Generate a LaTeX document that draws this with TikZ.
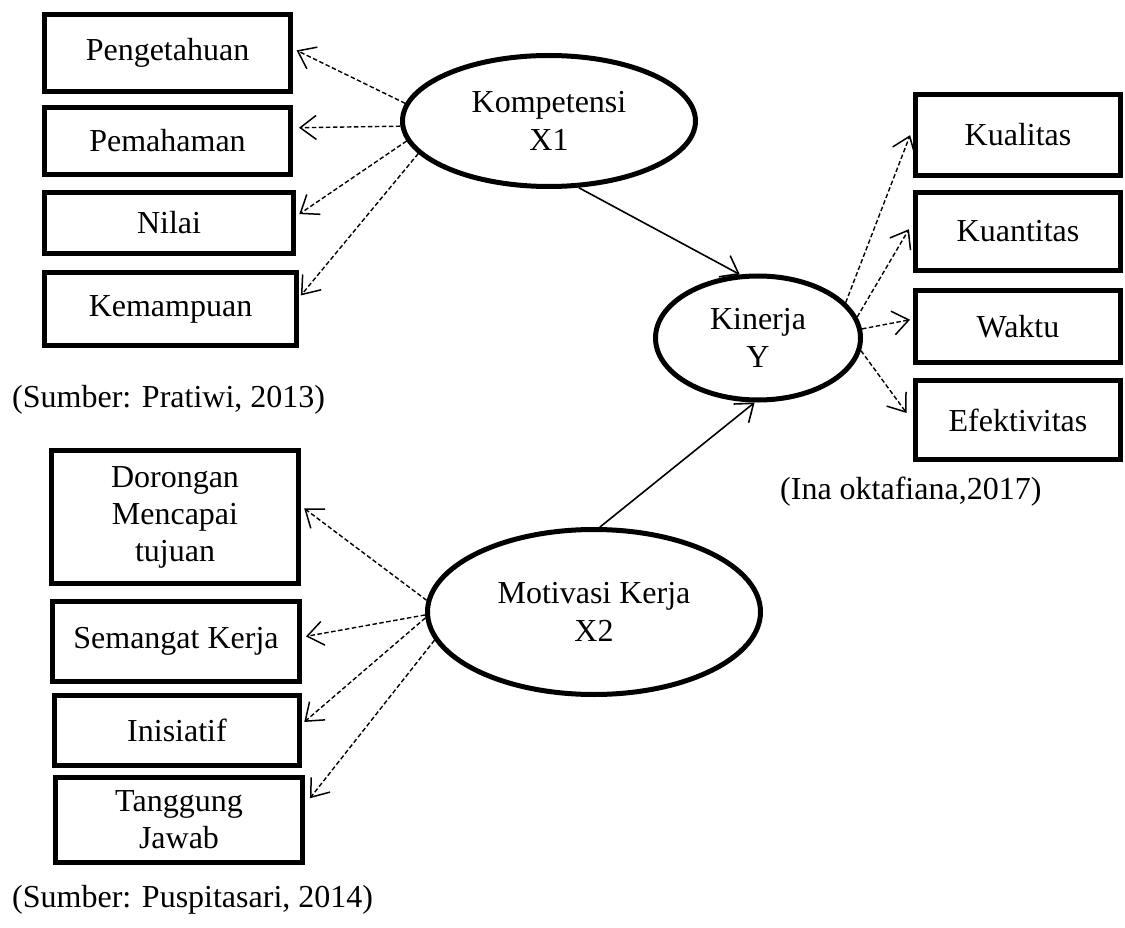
\documentclass[tikz,border=0pt]{standalone}
\usepackage{fontspec}
\setmainfont{Liberation Serif}
\usetikzlibrary{arrows.meta,shapes.geometric}
\begin{document}
\begin{tikzpicture}[x=1pt,y=-1pt]
    % Define basic node styles
    \tikzset{
        block/.style={
            rectangle,
            draw,
            line width=5pt,
            inner sep=0pt,
            align=center,
            font=\fontsize{32}{37}\selectfont
        },
        latent/.style={
            ellipse,
            draw,
            line width=5pt,
            inner sep=0pt,
            align=center,
            font=\fontsize{32}{38}\selectfont
        },
        loading/.style={
            line width=1.4pt,
            dash pattern=on 4.5pt off 2.5pt,
            -{Straight Barb[length=16pt,width=24pt,line width=1.5pt]}
        },
        effect/.style={
            line width=1.6pt,
            -{Straight Barb[length=16pt,width=24pt,line width=1.6pt]}
        },
        source/.style={anchor=west, inner sep=0pt, font=\fontsize{32}{37}\selectfont}
    }
    \useasboundingbox (0,0) rectangle (1125,928);

    % Latent variables
    \node[latent, minimum width=293pt, minimum height=131pt] (kom) at (549,121) {Kompetensi\\X1};
    \node[latent, minimum width=205pt, minimum height=124pt] (kin) at (758,338) {Kinerja\\Y};
    \node[latent, minimum width=333pt, minimum height=165pt] (mot) at (594,612) {Motivasi Kerja\\X2};

    % Indicators of Kompetensi
    \node[block, minimum width=246pt, minimum height=77pt] (peng) at (167.5,53) {Pengetahuan};
    \node[block, minimum width=246pt, minimum height=67pt] (pem) at (167.5,141) {Pemahaman};
    \node[block, minimum width=249pt, minimum height=61pt] (nil) at (169,223) {Nilai};
    \node[block, minimum width=252pt, minimum height=73pt] (kem) at (170.5,309) {Kemampuan};

    % Indicators of Kinerja
    \node[block, minimum width=205pt, minimum height=81pt] (kual) at (1018,135) {Kualitas};
    \node[block, minimum width=205pt, minimum height=78pt] (kuan) at (1018,231.5) {Kuantitas};
    \node[block, minimum width=205pt, minimum height=72pt] (wak) at (1018,326.5) {Waktu};
    \node[block, minimum width=205pt, minimum height=79pt] (efk) at (1018,420) {Efektivitas};

    % Indicators of Motivasi Kerja
    \node[block, minimum width=247pt, minimum height=133pt] (dor) at (175,517) {Dorongan\\Mencapai\\tujuan};
    \node[block, minimum width=247pt, minimum height=80pt] (sem) at (176,641.5) {Semangat Kerja};
    \node[block, minimum width=245pt, minimum height=70pt] (ini) at (177,730.5) {Inisiatif};
    \node[block, minimum width=247pt, minimum height=85pt] (tang) at (179,820) {Tanggung\\Jawab};

    % Sources
    \node[source] (srcx1) at (12,400) {(Sumber: Pratiwi, 2013)};
    \node[source] (srcy) at (780,492) {(Ina oktafiana,2017)};
    \node[source] (srcx2) at (12,900) {(Sumber: Puspitasari, 2014)};

    % Loadings of Kompetensi
    \draw[loading, shorten >=4pt] (kom.173) -- (peng.2);
    \draw[loading, shorten >=6pt] (kom.182) -- (pem.6);
    \draw[loading, shorten >=4pt] (kom.188) -- (nil.3);
    \draw[loading, shorten >=3pt] (kom.194) -- (kem.5);

    % Loadings of Kinerja
    \draw[loading, shorten >=8pt] (kin.22) -- (kual.176);
    \draw[loading, shorten >=8pt] (kin.12) -- (kuan.175);
    \draw[loading, shorten >=3pt] (kin.5) -- (wak.176);
    \draw[loading, shorten >=11pt] (kin.-7) -- (efk.181);

    % Loadings of Motivasi Kerja
    \draw[loading, shorten >=4pt] (mot.176) -- (dor.5);
    \draw[loading, shorten >=4pt] (mot.181) -- (sem.2);
    \draw[loading, shorten >=3pt] (mot.182) -- (ini.3);
    \draw[loading, shorten >=8pt] (mot.190) -- (tang.7);

    % Structural paths
    \draw[effect] (kom.-66) -- (kin.106);
    \draw[effect] (mot.86) -- (kin.-93);
\end{tikzpicture}
\end{document}
